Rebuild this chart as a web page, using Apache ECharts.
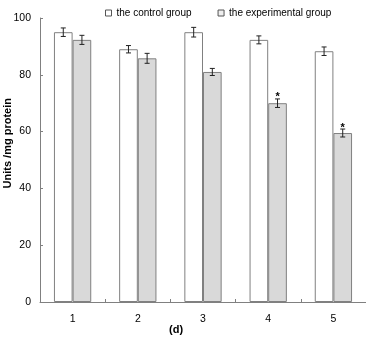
<!DOCTYPE html>
<html>
<head>
<meta charset="utf-8">
<script src="https://cdn.jsdelivr.net/npm/echarts@6/dist/echarts.min.js"></script>
<style>
html,body{margin:0;padding:0;background:#fff;}
#chart{width:366px;height:337px;}
</style>
</head>
<body>
<div id="chart"></div>
<script>
var categories = ['1', '2', '3', '4', '5'];
var controlMean = [95.0, 89.0, 95.0, 92.3, 88.3];
var controlErr = [1.5, 1.3, 1.7, 1.4, 1.5];
var expMean = [92.3, 85.8, 81.0, 70.0, 59.5];
var expErr = [1.6, 1.75, 1.25, 1.5, 1.4];
var expSignificant = ['', '', '', '*', '*'];
var yTicks = [0, 20, 40, 60, 80, 100];

var chart = echarts.init(document.getElementById('chart'));
var FONT = '"Liberation Sans", Arial, sans-serif';

function errorSeries(name, means, errs, marks, side) {
  var data = means.map(function (m, i) { return [i, m, errs[i], marks ? marks[i] : '']; });
  return {
    type: 'custom',
    name: name + ' error',
    data: data,
    z: 10,
    silent: true,
    renderItem: function (params, api) {
      var idx = api.value(0);
      var m = api.value(1);
      var e = api.value(2);
      var band = api.size([1, 0])[0];
      var off = side * band * 0.143;
      var hi = api.coord([idx, m + e]);
      var lo = api.coord([idx, m - e]);
      var x = hi[0] + off;
      var cap = 2.5;
      var st = { stroke: '#222', lineWidth: 1 };
      var children = [
        { type: 'line', shape: { x1: x, y1: hi[1], x2: x, y2: lo[1] }, style: st },
        { type: 'line', shape: { x1: x - cap, y1: hi[1], x2: x + cap, y2: hi[1] }, style: st },
        { type: 'line', shape: { x1: x - cap, y1: lo[1], x2: x + cap, y2: lo[1] }, style: st }
      ];
      var mk = data[params.dataIndex][3];
      if (mk) {
        children.push({
          type: 'text',
          style: {
            text: mk, x: x, y: hi[1] + 4,
            align: 'center', verticalAlign: 'bottom',
            font: 'bold 11px ' + FONT, fill: '#000'
          }
        });
      }
      return { type: 'group', children: children };
    }
  };
}

var option = {
  animation: false,
  backgroundColor: '#fff',
  textStyle: { fontFamily: FONT },
  grid: { left: 40, top: 18, bottom: 35, width: 327, containLabel: false },
  legend: {
    top: 3, left: 100,
    itemWidth: 6, itemHeight: 6, itemGap: 26,
    icon: 'rect',
    textStyle: { fontSize: 10, color: '#000', fontFamily: FONT },
    data: [
      { name: 'the control group', itemStyle: { color: '#fff', borderColor: '#555', borderWidth: 1 } },
      { name: 'the experimental group', itemStyle: { color: '#eee', borderColor: '#555', borderWidth: 1 } }
    ]
  },
  xAxis: {
    type: 'category',
    data: categories,
    axisLine: { lineStyle: { color: '#808080' } },
    axisTick: { show: true, inside: true, length: 3, lineStyle: { color: '#808080' } },
    axisLabel: { color: '#000', fontSize: 10.5, margin: 12, fontFamily: FONT }
  },
  yAxis: {
    type: 'value',
    min: yTicks[0], max: yTicks[yTicks.length - 1], interval: 20,
    axisLine: { show: true, lineStyle: { color: '#808080' } },
    axisTick: { show: true, inside: true, length: 3, lineStyle: { color: '#808080' } },
    splitLine: { show: false },
    axisLabel: { color: '#000', fontSize: 10.5, margin: 9, fontFamily: FONT }
  },
  graphic: [
    {
      type: 'text', left: 2, top: 98, rotation: Math.PI / 2,
      style: { text: 'Units /mg protein', font: 'bold 11px ' + FONT, fill: '#000' }
    },
    {
      type: 'text', left: 169, top: 324,
      style: { text: '(d)', font: 'bold 11px ' + FONT, fill: '#000' }
    }
  ],
  series: [
    {
      name: 'the control group',
      type: 'bar',
      data: controlMean,
      barWidth: '28.6%',
      barGap: '0%',
      itemStyle: { color: '#ffffff', borderColor: '#808080', borderWidth: 1 }
    },
    {
      name: 'the experimental group',
      type: 'bar',
      data: expMean,
      barWidth: '28.6%',
      barGap: '0%',
      itemStyle: { color: '#d9d9d9', borderColor: '#808080', borderWidth: 1 }
    },
    errorSeries('control', controlMean, controlErr, null, -1),
    errorSeries('exp', expMean, expErr, expSignificant, 1)
  ]
};
chart.setOption(option);
</script>
</body>
</html>
